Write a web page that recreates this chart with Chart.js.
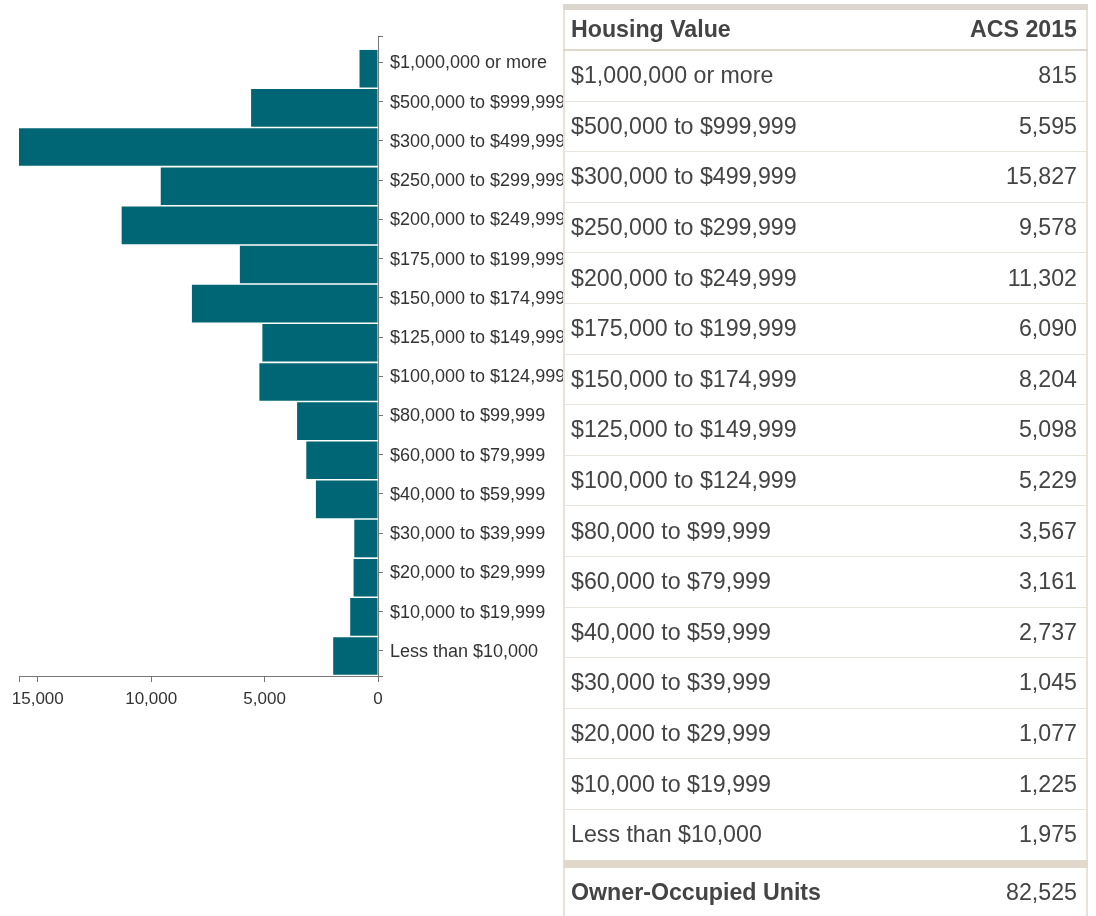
<!DOCTYPE html>
<html>
<head>
<meta charset="utf-8">
<script src="https://cdn.jsdelivr.net/npm/chart.js@4"></script>
<style>
  body { margin: 0; background: #fff; font-family: "Liberation Sans", Arial, sans-serif; }
  #chartBox { position: absolute; left: 0; top: 0; width: 568px; height: 720px; }
  #valueTable {
    position: absolute; left: 563px; top: 4px; width: 525px;
    border-collapse: collapse; font-size: 23.2px; color: #444;
    border-top: 6px solid #dad6cf;
    border-left: 2px solid #e9e2d7;
    border-right: 2px solid #e9e2d7;
  }
  #valueTable th { height: 39px; padding: 0 9px 0 6px; border-bottom: 2px solid #ddd6cb; font-weight: bold; }
  #valueTable td { height: 49.6px; padding: 0 9px 0 6px; border-bottom: 1px solid #e9e4dc; }
  #valueTable tfoot td { height: 50px; border-top: 8px solid #e2d9cb; border-bottom: none; }
  .lbl { text-align: left; }
  .num { text-align: right; }
</style>
</head>
<body>
<div id="chartBox"><canvas id="housingChart"></canvas></div>
<table id="valueTable">
  <thead><tr><th class="lbl">Housing Value</th><th class="num">ACS 2015</th></tr></thead>
  <tbody id="tableBody"></tbody>
  <tfoot><tr><td class="lbl" style="font-weight:bold">Owner-Occupied Units</td><td class="num" id="totalCell"></td></tr></tfoot>
</table>
<script>
const categories = [
  "$1,000,000 or more",
  "$500,000 to $999,999",
  "$300,000 to $499,999",
  "$250,000 to $299,999",
  "$200,000 to $249,999",
  "$175,000 to $199,999",
  "$150,000 to $174,999",
  "$125,000 to $149,999",
  "$100,000 to $124,999",
  "$80,000 to $99,999",
  "$60,000 to $79,999",
  "$40,000 to $59,999",
  "$30,000 to $39,999",
  "$20,000 to $29,999",
  "$10,000 to $19,999",
  "Less than $10,000",
];
const units = [815, 5595, 15827, 9578, 11302, 6090, 8204, 5098, 5229, 3567, 3161, 2737, 1045, 1077, 1225, 1975];
const xTicks = [0, 5000, 10000, 15000];

const fmt = (v) => v.toLocaleString("en-US");
const positions = categories.map((c, i) => i);

// Table
const tbody = document.getElementById("tableBody");
categories.forEach((c, i) => {
  const tr = document.createElement("tr");
  tr.innerHTML = '<td class="lbl">' + c + '</td><td class="num">' + fmt(units[i]) + "</td>";
  tbody.appendChild(tr);
});
document.getElementById("totalCell").textContent = fmt(units.reduce((a, b) => a + b, 0));

// Bar chart
const ctx = document.getElementById("housingChart").getContext("2d");
const housingChart = new Chart(ctx, {
  type: "bar",
  data: {
    datasets: [
      {
        data: units.map((v, i) => ({ x: v, y: positions[i] })),
        backgroundColor: "#006675",
        borderWidth: 0,
        barPercentage: 0.96,
        categoryPercentage: 1,
        yAxisID: "y",
      },
    ],
  },
  options: {
    indexAxis: "y",
    animation: false,
    responsive: true,
    maintainAspectRatio: false,
    layout: { padding: { left: 19, top: 36, right: 0, bottom: 0 } },
    plugins: { legend: { display: false }, tooltip: { enabled: false } },
    scales: {
      x: {
        type: "linear",
        reverse: true,
        min: 0,
        max: Math.max(...units),
        afterBuildTicks: (axis) => {
          axis.ticks = xTicks.concat([axis.max]).map((v) => ({ value: v }));
        },
        afterFit: (axis) => { axis.height = 44; },
        grid: { drawOnChartArea: false, tickLength: 6, color: "#777" },
        border: { color: "#777" },
        ticks: {
          padding: 7,
          color: "#333",
          font: { family: "'Liberation Sans', Arial, sans-serif", size: 17 },
          maxRotation: 0,
          autoSkip: false,
          callback: (v) => (xTicks.includes(v) ? fmt(v) : ""),
        },
      },
      y: {
        type: "linear",
        reverse: true,
        offset: false,
        min: -0.836,
        max: 15.511,
        display: false,
        grid: { offset: false },
        afterBuildTicks: (axis) => {
          axis.ticks = positions.map((v) => ({ value: v }));
        },
      },
      yl: {
        type: "linear",
        position: "right",
        reverse: true,
        offset: false,
        min: -0.671,
        max: 15.638,
        afterBuildTicks: (axis) => {
          axis.ticks = [axis.min, ...positions, axis.max].map((v) => ({ value: v }));
        },
        afterFit: (axis) => { axis.width = 190; },
        grid: { offset: false, drawOnChartArea: false, tickLength: 5, color: "#777" },
        border: { color: "#777" },
        ticks: {
          padding: 7,
          labelOffset: 1,
          color: "#333",
          font: { family: "'Liberation Sans', Arial, sans-serif", size: 18 },
          autoSkip: false,
          callback: (v) => categories[v] ?? "",
        },
      },
    },
  },
});
</script>
</body>
</html>
